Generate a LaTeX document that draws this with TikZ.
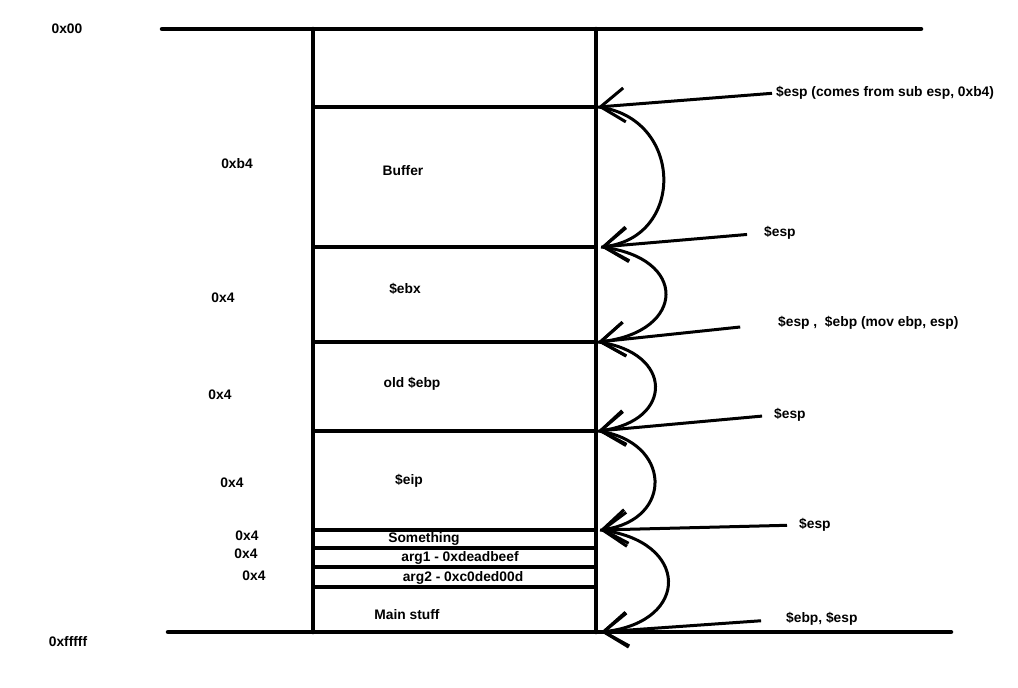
\documentclass[tikz,border=0pt]{standalone}
\usepackage{fontspec}
\setmainfont{Liberation Sans}
\usetikzlibrary{arrows.meta}

\begin{document}
\begin{tikzpicture}[x=1pt,y=-1pt,font=\fontsize{13.8}{15}\selectfont\bfseries,
  wall/.style={line width=4.5pt,line cap=round},
  cell/.style={line width=4pt},
  ptr/.style={line width=3pt,-{Straight Barb[length=24pt,width=34pt,line width=3pt]}},
  lbl/.style={inner sep=0pt}]
\useasboundingbox (0,0) rectangle (1018,688);
% stack frame
\draw[wall] (162,29) -- (921,29);
\draw[wall] (168,632) -- (951,632);
\draw[wall] (313,29) -- (313,632);
\draw[wall] (596,29) -- (596,632);
\foreach \y in {107,247,342,431,530,548,567,587}
  \draw[cell] (313,\y) -- (596,\y);
% cell contents
\node[lbl] (buf)  at (403,171) {Buffer};
\node[lbl] (ebx)  at (405,289) {\$ebx};
\node[lbl] (oebp) at (412,384) {old \$ebp};
\node[lbl] (eip)  at (409,481) {\$eip};
\node[lbl] (smth) at (424,539) {Something};
\node[lbl] (arga) at (460,558) {arg1 - 0xdeadbeef};
\node[lbl] (argb) at (463,578) {arg2 - 0xc0ded00d};
\node[lbl] (mainst) at (407,615) {Main stuff};
% sizes / addresses
\node[lbl] (top) at (67,29)  {0x00};
\node[lbl] (bot) at (68,642) {0xfffff};
\node[lbl] (szbuf) at (237,164) {0xb4};
\node[lbl] (szebx) at (223,298) {0x4};
\node[lbl] (szebp) at (220,395) {0x4};
\node[lbl] (szeip) at (232,483) {0x4};
\node[lbl] (szsm)  at (247,536) {0x4};
\node[lbl] (sza)   at (246,554) {0x4};
\node[lbl] (szb)   at (254,576) {0x4};
% pointer positions
\coordinate (b0) at (598,107);
\coordinate (b1) at (601,247);
\coordinate (b2) at (598,342);
\coordinate (b3) at (598,431);
\coordinate (b4) at (600,530);
\coordinate (b5) at (601,632);
\node[lbl,anchor=west] (e0) at (776,93)  {\$esp (comes from sub esp, 0xb4)};
\node[lbl,anchor=west] (e1) at (764,233) {\$esp};
\node[lbl,anchor=west] (e2) at (778,323) {\$esp ,\ \ \$ebp (mov ebp, esp)};
\node[lbl,anchor=west] (e3) at (774,415) {\$esp};
\node[lbl,anchor=west] (e4) at (799,525) {\$esp};
\node[lbl,anchor=west] (e5) at (786,619) {\$ebp, \$esp};
\foreach \l/\p/\g in {e0/b0/4,e1/b1/17,e2/b2/38,e3/b3/12,e4/b4/12,e5/b5/25}
  \draw[ptr,shorten <=\g pt] (\l.west) -- (\p);
% esp moving down
\foreach \a/\b/\w in {b0/b1/85,b1/b2/88,b2/b3/76,b3/b4/74,b4/b5/90}
  \draw[ptr] (\a) .. controls +(\w,10) and +(\w,-10) .. (\b);
\end{tikzpicture}
\end{document}
